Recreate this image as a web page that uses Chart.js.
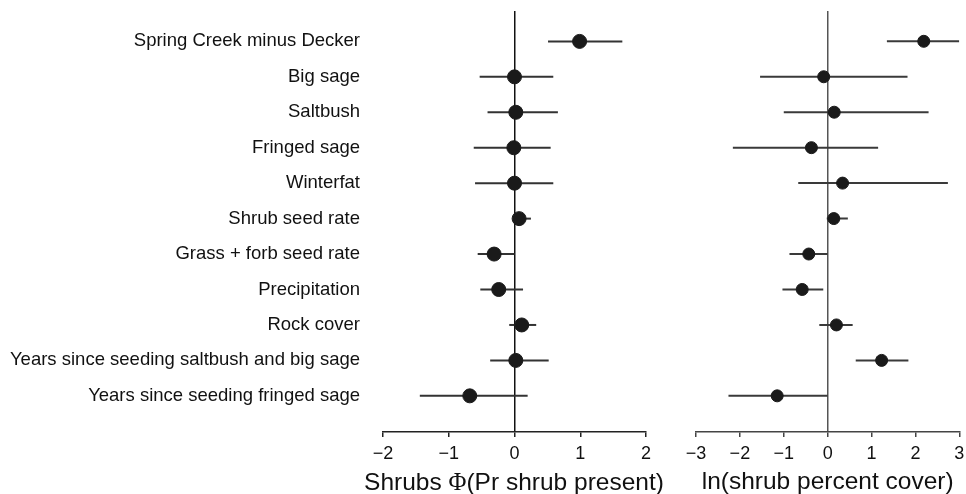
<!DOCTYPE html>
<html>
<head>
<meta charset="utf-8">
<script src="https://cdn.jsdelivr.net/npm/chart.js@4.4.1/dist/chart.umd.min.js"></script>
<style>
  html, body { margin: 0; padding: 0; background: #fff; overflow: hidden; }
  #wrap { position: relative; width: 966px; height: 494px; overflow: hidden; }
  #left { position: absolute; left: 0; top: 0; }
  #right { position: absolute; left: 660px; top: 0; }
  #leftTitle {
    position: absolute; left: 314px; width: 400px; top: 469px;
    text-align: center; white-space: nowrap;
    font: 24.5px 'Liberation Sans', Arial, sans-serif; line-height: 26px; color: #111;
  }
  #leftTitle .phi { font-family: 'Liberation Serif', 'DejaVu Serif', serif; }
</style>
</head>
<body>
<div id="wrap">
  <canvas id="left" width="660" height="494"></canvas>
  <canvas id="right" width="316" height="494"></canvas>
  <div id="leftTitle">Shrubs <span class="phi">&#934;</span>(Pr shrub present)</div>
</div>
<script>
// predictors, top to bottom
const rowLabels = [
  'Spring Creek minus Decker',
  'Big sage',
  'Saltbush',
  'Fringed sage',
  'Winterfat',
  'Shrub seed rate',
  'Grass + forb seed rate',
  'Precipitation',
  'Rock cover',
  'Years since seeding saltbush and big sage',
  'Years since seeding fringed sage'
];

// left panel: Shrubs Phi(Pr shrub present)
const presEst = [0.99, 0.00, 0.02, -0.01, 0.00, 0.07, -0.31, -0.24, 0.11, 0.02, -0.68];
const presLo  = [0.51, -0.53, -0.41, -0.62, -0.60, -0.02, -0.56, -0.52, -0.08, -0.37, -1.44];
const presHi  = [1.64, 0.59, 0.66, 0.55, 0.59, 0.25, 0.00, 0.13, 0.33, 0.52, 0.20];

// right panel: ln(shrub percent cover)
const coverEst = [2.19, -0.09, 0.15, -0.37, 0.34, 0.14, -0.43, -0.58, 0.20, 1.23, -1.15];
const coverLo  = [1.35, -1.54, -1.00, -2.16, -0.67, -0.02, -0.87, -1.03, -0.19, 0.64, -2.26];
const coverHi  = [3.00, 1.82, 2.30, 1.15, 2.74, 0.46, 0.00, -0.10, 0.57, 1.84, 0.00];

const leftTicks = [-2, -1, 0, 1, 2];
const rightTicks = [-3, -2, -1, 0, 1, 2, 3];

const FONT = "'Liberation Sans', Arial, sans-serif";
const minus = v => v < 0 ? '\u2212' + Math.abs(v) : '' + v;

function makeDatasets(est, lo, hi, barColor, radius) {
  const sets = [];
  est.forEach((e, i) => {
    sets.push({
      type: 'line',
      data: [{ x: lo[i], y: i + 1 }, { x: hi[i], y: i + 1 }],
      borderColor: barColor,
      borderWidth: 2,
      pointRadius: 0,
      order: 1
    });
  });
  sets.push({
    type: 'scatter',
    data: est.map((e, i) => ({ x: e, y: i + 1 })),
    backgroundColor: '#1a1a1a',
    borderColor: '#1a1a1a',
    pointRadius: radius,
    order: 0
  });
  return sets;
}

function makeChart(id, est, lo, hi, ticks, title, opts) {
  return new Chart(document.getElementById(id), {
    type: 'scatter',
    data: { datasets: makeDatasets(est, lo, hi, opts.barColor, opts.radius) },
    options: {
      responsive: false,
      animation: false,
      layout: { padding: opts.padding },
      plugins: { legend: { display: false }, tooltip: { enabled: false } },
      scales: {
        x: {
          type: 'linear',
          min: ticks[0],
          max: ticks[ticks.length - 1],
          afterBuildTicks: s => { s.ticks = ticks.map(v => ({ value: v })); },
          afterFit: s => { s.height = 62; },
          grid: {
            color: c => (c.tick && c.tick.value === 0) ? opts.zeroColor : 'rgba(0,0,0,0)',
            tickColor: opts.axisColor,
            tickLength: 5,
            lineWidth: 1.5
          },
          border: { display: true, color: opts.axisColor, width: 1.5 },
          ticks: {
            callback: v => minus(v),
            color: '#111',
            font: { family: FONT, size: 18 },
            padding: 6,
            maxRotation: 0
          },
          title: {
            display: title !== '',
            text: title,
            color: '#111',
            font: { family: FONT, size: 24.5, lineHeight: 1 },
            padding: { top: 0, bottom: 0 }
          }
        },
        y: {
          type: 'linear',
          reverse: true,
          min: 0.145,
          max: 12.02,
          display: opts.showLabels,
          afterBuildTicks: s => { s.ticks = rowLabels.map((_, i) => ({ value: i + 1 })); },
          afterFit: s => { s.width = opts.showLabels ? 383 : 0; },
          grid: {
            display: true,
            drawOnChartArea: false,
            drawTicks: true,
            tickLength: 23,
            color: 'rgba(0,0,0,0)',
            tickColor: 'rgba(0,0,0,0)'
          },
          border: { display: false },
          ticks: {
            autoSkip: false,
            callback: v => rowLabels[v - 1],
            color: '#111',
            font: { family: FONT, size: 18.5 },
            padding: 0
          }
        }
      }
    }
  });
}

// left title is set as html below the canvas so it can run wider than the axis
makeChart('left', presEst, presLo, presHi, leftTicks, '', {
  padding: { top: 11, right: 14, bottom: 0, left: 0 },
  barColor: '#333',
  radius: 7,
  zeroColor: '#111',
  axisColor: '#222',
  showLabels: true
});

makeChart('right', coverEst, coverLo, coverHi, rightTicks, 'ln(shrub percent cover)', {
  padding: { top: 11, right: 16.7, bottom: 0, left: 36 },
  barColor: '#3a3a3a',
  radius: 6,
  zeroColor: '#555',
  axisColor: '#444',
  showLabels: false
});
</script>
</body>
</html>
